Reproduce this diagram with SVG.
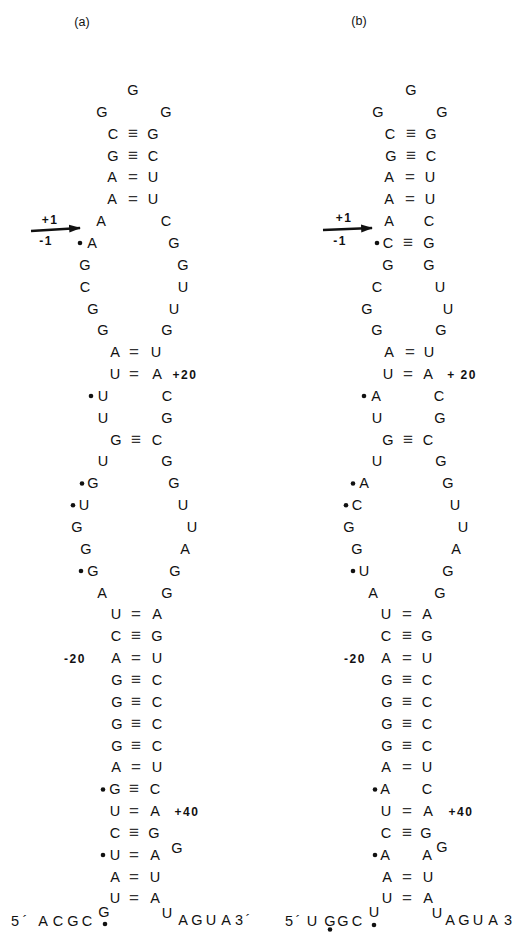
<svg xmlns="http://www.w3.org/2000/svg" width="520" height="932" viewBox="0 0 520 932">
<style>
text{font-family:"Liberation Sans","DejaVu Sans",sans-serif;fill:#111;text-anchor:middle}
.n{font-size:14.5px}
.b{font-size:17px;fill:#333}
.lbl{font-size:12.5px}
.num{font-size:12px;font-weight:bold;letter-spacing:1.5px}
.dot{fill:#111}
.arrow{stroke:#111;stroke-width:2.6;fill:none}
</style>
<defs>
<marker id="ah" viewBox="0 0 12 10" refX="11" refY="5" markerWidth="4.6" markerHeight="3.8" orient="auto" markerUnits="strokeWidth">
<path d="M0,1 L12,5 L0,9 z" fill="#111"/>
</marker>
</defs>
<rect width="520" height="932" fill="#fff"/>

<g id="labels">
<text class="lbl" x="82" y="26">(a)</text>
<text class="lbl" x="359" y="25">(b)</text>
</g>

<g id="connectors">
<line class="arrow" x1="31" y1="231" x2="80" y2="228" marker-end="url(#ah)"/>
<line class="arrow" x1="323" y1="230" x2="372" y2="228" marker-end="url(#ah)"/>
</g>

<g id="panel-a">
<g id="a-r0"><text class="n" x="133" y="95">G</text></g>
<g id="a-r1"><text class="n" x="102" y="117">G</text><text class="n" x="166" y="117">G</text></g>
<g id="a-r2"><text class="n" x="113" y="138.7">C</text><text class="b" x="133" y="138.7">≡</text><text class="n" x="153" y="138.7">G</text></g>
<g id="a-r3"><text class="n" x="113" y="160.5">G</text><text class="b" x="133" y="160.5">≡</text><text class="n" x="153" y="160.5">C</text></g>
<g id="a-r4"><text class="n" x="112" y="182.4">A</text><text class="b" x="133" y="182.4">=</text><text class="n" x="153" y="182.4">U</text></g>
<g id="a-r5"><text class="n" x="112" y="204.2">A</text><text class="b" x="133" y="204.2">=</text><text class="n" x="153" y="204.2">U</text></g>
<g id="a-r6"><text class="num" x="50" y="224">+1</text><text class="n" x="101" y="226.1">A</text><text class="n" x="166" y="226.1">C</text></g>
<g id="a-r7"><text class="num" x="46" y="245">-1</text><circle class="dot" cx="80" cy="243" r="2.3"/><text class="n" x="92" y="248">A</text><text class="n" x="174" y="248">G</text></g>
<g id="a-r8"><text class="n" x="85" y="269.8">G</text><text class="n" x="183" y="269.8">G</text></g>
<g id="a-r9"><text class="n" x="85" y="291.6">C</text><text class="n" x="183" y="291.6">U</text></g>
<g id="a-r10"><text class="n" x="93" y="313.5">G</text><text class="n" x="174" y="313.5">U</text></g>
<g id="a-r11"><text class="n" x="103" y="335.3">G</text><text class="n" x="167" y="335.3">G</text></g>
<g id="a-r12"><text class="n" x="115" y="357.2">A</text><text class="b" x="134" y="357.2">=</text><text class="n" x="156" y="357.2">U</text></g>
<g id="a-r13"><text class="n" x="115" y="379">U</text><text class="b" x="134" y="379">=</text><text class="n" x="157" y="379">A</text><text class="num" x="185" y="379">+20</text></g>
<g id="a-r14"><circle class="dot" cx="91" cy="396" r="2.3"/><text class="n" x="103" y="400.9">U</text><text class="n" x="167" y="400.9">C</text></g>
<g id="a-r15"><text class="n" x="103" y="422.7">U</text><text class="n" x="167" y="422.7">G</text></g>
<g id="a-r16"><text class="n" x="116" y="444.6">G</text><text class="b" x="136" y="444.6">≡</text><text class="n" x="157" y="444.6">C</text></g>
<g id="a-r17"><text class="n" x="103" y="466.4">U</text><text class="n" x="167" y="466.4">G</text></g>
<g id="a-r18"><circle class="dot" cx="82" cy="483.5" r="2.3"/><text class="n" x="93" y="488.3">G</text><text class="n" x="174" y="488.3">G</text></g>
<g id="a-r19"><circle class="dot" cx="73" cy="505.3" r="2.3"/><text class="n" x="84" y="510.1">U</text><text class="n" x="183" y="510.1">U</text></g>
<g id="a-r20"><text class="n" x="77" y="532">G</text><text class="n" x="192" y="532">U</text></g>
<g id="a-r21"><text class="n" x="86" y="553.8">G</text><text class="n" x="185" y="553.8">A</text></g>
<g id="a-r22"><circle class="dot" cx="81" cy="571" r="2.3"/><text class="n" x="93" y="575.7">G</text><text class="n" x="175" y="575.7">G</text></g>
<g id="a-r23"><text class="n" x="102" y="597.5">A</text><text class="n" x="167" y="597.5">G</text></g>
<g id="a-r24"><text class="n" x="116" y="619.4">U</text><text class="b" x="136" y="619.4">=</text><text class="n" x="157" y="619.4">A</text></g>
<g id="a-r25"><text class="n" x="116" y="641.2">C</text><text class="b" x="136" y="641.2">≡</text><text class="n" x="157" y="641.2">G</text></g>
<g id="a-r26"><text class="num" x="75" y="663.1">-20</text><text class="n" x="116" y="663.1">A</text><text class="b" x="136" y="663.1">=</text><text class="n" x="157" y="663.1">U</text></g>
<g id="a-r27"><text class="n" x="117" y="685">G</text><text class="b" x="136" y="685">≡</text><text class="n" x="157" y="685">C</text></g>
<g id="a-r28"><text class="n" x="117" y="706.8">G</text><text class="b" x="136" y="706.8">≡</text><text class="n" x="157" y="706.8">C</text></g>
<g id="a-r29"><text class="n" x="117" y="728.6">G</text><text class="b" x="136" y="728.6">≡</text><text class="n" x="157" y="728.6">C</text></g>
<g id="a-r30"><text class="n" x="117" y="750.5">G</text><text class="b" x="136" y="750.5">≡</text><text class="n" x="157" y="750.5">C</text></g>
<g id="a-r31"><text class="n" x="116" y="772.3">A</text><text class="b" x="136" y="772.3">=</text><text class="n" x="157" y="772.3">U</text></g>
<g id="a-r32"><circle class="dot" cx="103" cy="789.5" r="2.3"/><text class="n" x="115" y="794.2">G</text><text class="b" x="134" y="794.2">≡</text><text class="n" x="155" y="794.2">C</text></g>
<g id="a-r33"><text class="n" x="115" y="816">U</text><text class="b" x="134" y="816">=</text><text class="n" x="155" y="816">A</text><text class="num" x="187" y="816">+40</text></g>
<g id="a-r34"><text class="n" x="115" y="837.9">C</text><text class="b" x="134" y="837.9">≡</text><text class="n" x="154" y="837.9">G</text></g>
<g id="a-r35"><circle class="dot" cx="103" cy="855" r="2.3"/><text class="n" x="115" y="859.7">U</text><text class="b" x="134" y="859.7">=</text><text class="n" x="155" y="859.7">A</text><text class="n" x="177" y="853">G</text></g>
<g id="a-r36"><text class="n" x="115" y="881.6">A</text><text class="b" x="134" y="881.6">=</text><text class="n" x="155" y="881.6">U</text></g>
<g id="a-r37"><text class="n" x="115" y="903.4">U</text><text class="b" x="134" y="903.4">=</text><text class="n" x="155" y="903.4">A</text></g>
<g id="a-r38">
<text class="n" x="15" y="926">5</text><text class="n" x="25" y="926">´</text>
<text class="n" x="43" y="926">A</text><text class="n" x="58" y="926">C</text><text class="n" x="73" y="926">G</text><text class="n" x="87" y="926">C</text>
<text class="n" x="104" y="917">G</text>
<circle class="dot" cx="105" cy="924" r="2.3"/>
<text class="n" x="167" y="918">U</text>
<text class="n" x="183" y="925">A</text><text class="n" x="197" y="925">G</text><text class="n" x="211" y="925">U</text><text class="n" x="226" y="925">A</text><text class="n" x="239" y="925">3</text><text class="n" x="248" y="925">´</text>
</g>
</g>

<g id="panel-b">
<g id="b-r0"><text class="n" x="411" y="95">G</text></g>
<g id="b-r1"><text class="n" x="378" y="117">G</text><text class="n" x="442" y="117">G</text></g>
<g id="b-r2"><text class="n" x="390" y="138.7">C</text><text class="b" x="411" y="138.7">≡</text><text class="n" x="431" y="138.7">G</text></g>
<g id="b-r3"><text class="n" x="391" y="160.5">G</text><text class="b" x="411" y="160.5">≡</text><text class="n" x="431" y="160.5">C</text></g>
<g id="b-r4"><text class="n" x="389" y="182.4">A</text><text class="b" x="410" y="182.4">=</text><text class="n" x="430" y="182.4">U</text></g>
<g id="b-r5"><text class="n" x="389" y="204.2">A</text><text class="b" x="410" y="204.2">=</text><text class="n" x="430" y="204.2">U</text></g>
<g id="b-r6"><text class="num" x="344" y="222">+1</text><text class="n" x="389" y="226.1">A</text><text class="n" x="429" y="226.1">C</text></g>
<g id="b-r7"><text class="num" x="340" y="245">-1</text><circle class="dot" cx="377" cy="243" r="2.3"/><text class="n" x="388" y="248">C</text><text class="b" x="408" y="248">≡</text><text class="n" x="429" y="248">G</text></g>
<g id="b-r8"><text class="n" x="388" y="269.8">G</text><text class="n" x="429" y="269.8">G</text></g>
<g id="b-r9"><text class="n" x="377" y="291.6">C</text><text class="n" x="440" y="291.6">U</text></g>
<g id="b-r10"><text class="n" x="367" y="313.5">G</text><text class="n" x="448" y="313.5">U</text></g>
<g id="b-r11"><text class="n" x="377" y="335.3">G</text><text class="n" x="441" y="335.3">G</text></g>
<g id="b-r12"><text class="n" x="389" y="357.2">A</text><text class="b" x="410" y="357.2">=</text><text class="n" x="429" y="357.2">U</text></g>
<g id="b-r13"><text class="n" x="388" y="379">U</text><text class="b" x="408" y="379">=</text><text class="n" x="428" y="379">A</text><text class="num" x="462" y="379">+ 20</text></g>
<g id="b-r14"><circle class="dot" cx="364" cy="396" r="2.3"/><text class="n" x="376" y="400.9">A</text><text class="n" x="439" y="400.9">C</text></g>
<g id="b-r15"><text class="n" x="377" y="422.7">U</text><text class="n" x="440" y="422.7">G</text></g>
<g id="b-r16"><text class="n" x="388" y="444.6">G</text><text class="b" x="408" y="444.6">≡</text><text class="n" x="428" y="444.6">C</text></g>
<g id="b-r17"><text class="n" x="377" y="466.4">U</text><text class="n" x="441" y="466.4">G</text></g>
<g id="b-r18"><circle class="dot" cx="353" cy="483.5" r="2.3"/><text class="n" x="364" y="488.3">A</text><text class="n" x="448" y="488.3">G</text></g>
<g id="b-r19"><circle class="dot" cx="346" cy="505.3" r="2.3"/><text class="n" x="357" y="510.1">C</text><text class="n" x="455" y="510.1">U</text></g>
<g id="b-r20"><text class="n" x="349" y="532">G</text><text class="n" x="463" y="532">U</text></g>
<g id="b-r21"><text class="n" x="357" y="553.8">G</text><text class="n" x="456" y="553.8">A</text></g>
<g id="b-r22"><circle class="dot" cx="353" cy="571" r="2.3"/><text class="n" x="364" y="575.7">U</text><text class="n" x="448" y="575.7">G</text></g>
<g id="b-r23"><text class="n" x="373" y="597.5">A</text><text class="n" x="440" y="597.5">G</text></g>
<g id="b-r24"><text class="n" x="386" y="619.4">U</text><text class="b" x="407" y="619.4">=</text><text class="n" x="427" y="619.4">A</text></g>
<g id="b-r25"><text class="n" x="386" y="641.2">C</text><text class="b" x="407" y="641.2">≡</text><text class="n" x="427" y="641.2">G</text></g>
<g id="b-r26"><text class="num" x="355" y="663.1">-20</text><text class="n" x="386" y="663.1">A</text><text class="b" x="407" y="663.1">=</text><text class="n" x="427" y="663.1">U</text></g>
<g id="b-r27"><text class="n" x="387" y="685">G</text><text class="b" x="407" y="685">≡</text><text class="n" x="427" y="685">C</text></g>
<g id="b-r28"><text class="n" x="387" y="706.8">G</text><text class="b" x="407" y="706.8">≡</text><text class="n" x="427" y="706.8">C</text></g>
<g id="b-r29"><text class="n" x="387" y="728.6">G</text><text class="b" x="407" y="728.6">≡</text><text class="n" x="427" y="728.6">C</text></g>
<g id="b-r30"><text class="n" x="387" y="750.5">G</text><text class="b" x="407" y="750.5">≡</text><text class="n" x="427" y="750.5">C</text></g>
<g id="b-r31"><text class="n" x="386" y="772.3">A</text><text class="b" x="407" y="772.3">=</text><text class="n" x="427" y="772.3">U</text></g>
<g id="b-r32"><circle class="dot" cx="375" cy="789.5" r="2.3"/><text class="n" x="385" y="794.2">A</text><text class="n" x="427" y="794.2">C</text></g>
<g id="b-r33"><text class="n" x="386" y="816">U</text><text class="b" x="407" y="816">=</text><text class="n" x="428" y="816">A</text><text class="num" x="461" y="816">+40</text></g>
<g id="b-r34"><text class="n" x="386" y="837.9">C</text><text class="b" x="407" y="837.9">≡</text><text class="n" x="426" y="837.9">G</text><text class="n" x="442" y="852">G</text></g>
<g id="b-r35"><circle class="dot" cx="375" cy="855" r="2.3"/><text class="n" x="385" y="859.7">A</text><text class="n" x="427" y="859.7">A</text></g>
<g id="b-r36"><text class="n" x="387" y="881.6">A</text><text class="b" x="407" y="881.6">=</text><text class="n" x="428" y="881.6">U</text></g>
<g id="b-r37"><text class="n" x="387" y="903.4">U</text><text class="b" x="407" y="903.4">=</text><text class="n" x="428" y="903.4">A</text></g>
<g id="b-r38">
<text class="n" x="289" y="926">5</text><text class="n" x="298" y="926">´</text>
<text class="n" x="312" y="926">U</text><text class="n" x="330" y="926">G</text><text class="n" x="343" y="926">G</text><text class="n" x="357" y="926">C</text>
<circle class="dot" cx="330" cy="929.5" r="2.3"/>
<text class="n" x="374" y="917">U</text>
<circle class="dot" cx="374" cy="925" r="2.3"/>
<text class="n" x="437" y="918">U</text>
<text class="n" x="450" y="925">A</text><text class="n" x="464" y="925">G</text><text class="n" x="478" y="925">U</text><text class="n" x="493" y="925">A</text><text class="n" x="508" y="925">3</text>
</g>
</g>
</svg>
